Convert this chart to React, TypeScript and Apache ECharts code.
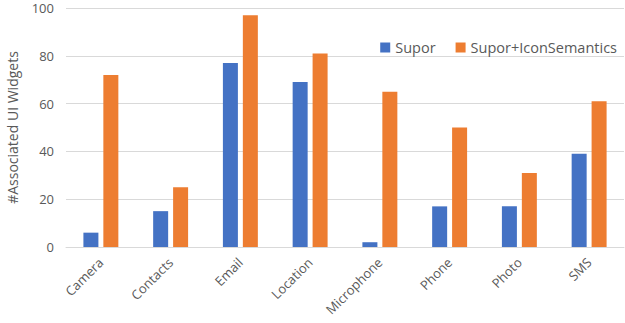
import React, { useEffect, useRef } from "react";
import * as echarts from "echarts";

const categories = ["Camera", "Contacts", "Email", "Location", "Microphone", "Phone", "Photo", "SMS"];
const suporValues = [6, 15, 77, 69, 2, 17, 17, 39];
const iconValues = [72, 25, 97, 81, 65, 50, 31, 61];
const seriesNames = ["Supor", "Supor+IconSemantics"];

const FONT = "'Open Sans', 'Noto Sans', sans-serif";

export default function App() {
  const ref = useRef<HTMLDivElement>(null);
  useEffect(() => {
    document.body.style.margin = "0";
    const chart = echarts.init(ref.current!, null, { renderer: "svg" });
    chart.setOption({
      animation: false,
      textStyle: { fontFamily: FONT },
      legend: {
        data: seriesNames,
        top: 35,
        right: 3,
        itemWidth: 10,
        itemHeight: 10,
        itemGap: 20,
        icon: "rect",
        textStyle: { color: "#595959", fontSize: 14.5, fontFamily: FONT },
      },
      grid: {
        left: 66,
        right: 1,
        top: 8,
        bottom: 76,
        containLabel: false,
        outerBoundsMode: "none",
      },
      xAxis: {
        type: "category",
        data: categories,
        axisLine: { lineStyle: { color: "#d9d9d9", width: 1 } },
        axisTick: { show: false },
        axisLabel: { rotate: 45, color: "#595959", fontSize: 13, margin: 13, fontFamily: FONT },
      },
      yAxis: {
        type: "value",
        min: 0,
        max: 100,
        interval: 20,
        name: "#Associated UI Widgets",
        nameLocation: "middle",
        nameGap: 47,
        nameTextStyle: { color: "#595959", fontSize: 14, fontFamily: FONT },
        axisLine: { show: false },
        axisTick: { show: false },
        axisLabel: { color: "#595959", fontSize: 13, margin: 12, fontFamily: FONT },
        splitLine: { lineStyle: { color: "#d9d9d9", width: 1 } },
      },
      series: [
        {
          name: seriesNames[0],
          type: "bar",
          data: suporValues,
          barWidth: 15,
          barGap: "33%",
          itemStyle: { color: "#4472c4" },
        },
        {
          name: seriesNames[1],
          type: "bar",
          data: iconValues,
          barWidth: 15,
          itemStyle: { color: "#ed7d31" },
        },
      ],
    });
    return () => chart.dispose();
  }, []);
  return <div ref={ref} style={{ width: 625, height: 323 }} />;
}
